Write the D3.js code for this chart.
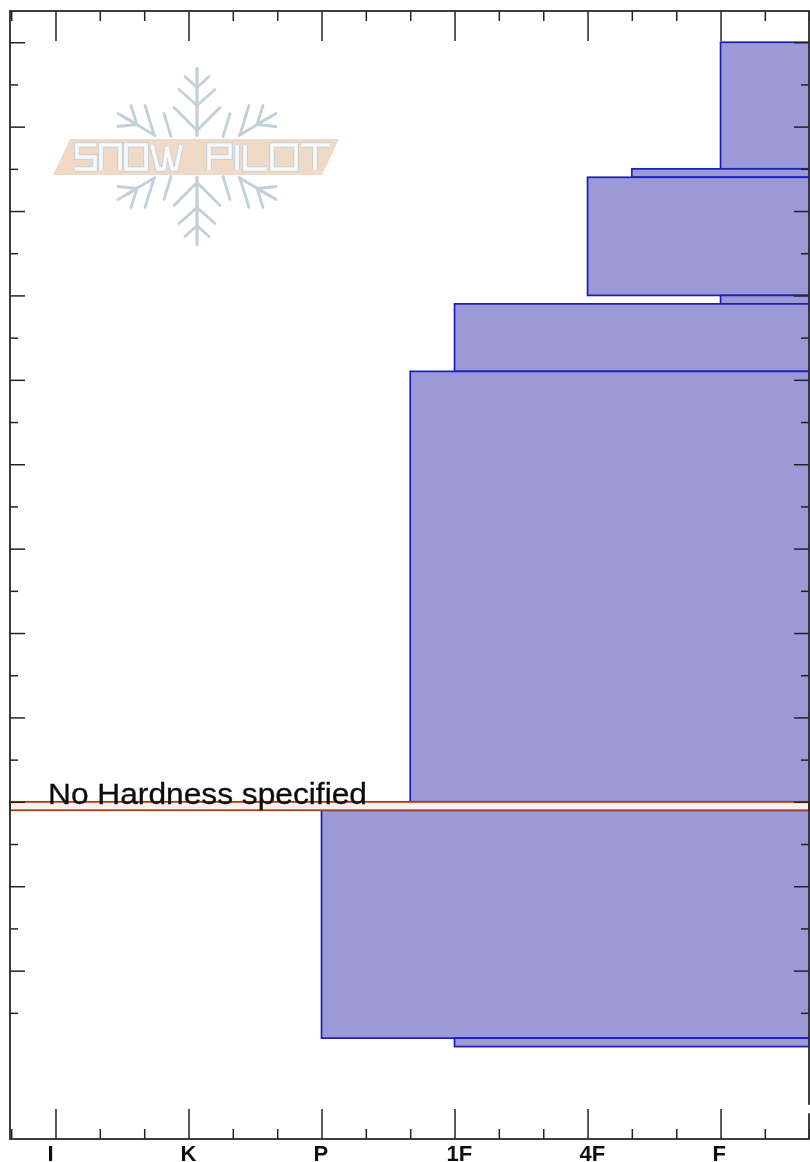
<!DOCTYPE html>
<html>
<head>
<meta charset="utf-8">
<script src="https://cdn.jsdelivr.net/npm/d3@7"></script>
<style>
    body { margin: 0; background: #fff; overflow: hidden; }
    svg { display: block; }
    .tick text { font-family: "Liberation Sans", Arial, sans-serif; }
</style>
</head>
<body>
<div id="chart"></div>
<script>
// Hardness categories along the x axis (index = position on the scale)
const hardness_labels = ["I", "K", "P", "1F", "4F", "F"];

// Snow layers: depth in cm (top / bottom) and hardness index of the left edge
const layer_top = [120, 105, 104, 90, 89, 81, 29, 2];
const layer_bottom = [105, 104, 90, 89, 81, 30, 2, 1];
const layer_hardness = [5, 4.333, 4, 5, 3, 2.667, 2, 3];

// Layer with no hardness given, drawn across the whole plot
const no_hardness_top = 30;
const no_hardness_bottom = 29;
const no_hardness_label = "No Hardness specified";

// Tick positions
const x_major = [0, 1, 2, 3, 4, 5];
const x_minor = [-0.333, 0.333, 0.667, 1.333, 1.667, 2.333, 2.667, 3.333, 3.667, 4.333, 4.667, 5.333, 5.667];
const y_major = [120, 110, 100, 90, 80, 70, 60, 50, 40, 30, 20, 10];
const y_minor = [115, 105, 95, 85, 75, 65, 55, 45, 35, 25, 15, 5];

const WIDTH = 810, HEIGHT = 1162;
const plot = {left: 10, right: 809, top: 11, bottom: 1139};

let svg = d3.select("#chart")
    .append("svg")
    .attr("width", WIDTH)
    .attr("height", HEIGHT);

// The reference is a slightly soft, resampled picture
let defs = svg.append("defs");
defs.append("filter").attr("id", "soft")
    .append("feGaussianBlur").attr("stdDeviation", 0.35);
defs.append("filter").attr("id", "softer")
    .append("feGaussianBlur").attr("stdDeviation", 0.6);
defs.append("clipPath").attr("id", "plot-clip")
    .append("rect")
    .attr("x", plot.left)
    .attr("y", plot.top)
    .attr("width", plot.right - plot.left)
    .attr("height", plot.bottom - plot.top);

let chart = svg.append("g").attr("filter", "url(#soft)");

let x = d3.scaleLinear()
    .domain([-0.342, 5.665])
    .range([plot.left, plot.right]);

let y = d3.scaleLinear()
    .domain([-9.95, 123.7])
    .range([plot.bottom, plot.top]);

drawLogo();

// Layers run off the right side of the plot
let layers = chart.append("g").attr("clip-path", "url(#plot-clip)");
layers.selectAll("rect")
    .data(d3.range(layer_top.length))
    .enter()
    .append("rect")
    .attr("x", function(i) { return x(layer_hardness[i]); })
    .attr("y", function(i) { return y(layer_top[i]); })
    .attr("width", function(i) { return x(6) - x(layer_hardness[i]); })
    .attr("height", function(i) { return y(layer_bottom[i]) - y(layer_top[i]); })
    .attr("fill", "#9b99d6")
    .attr("stroke", "#1c1cb8")
    .attr("stroke-width", 1.7);

chart.append("rect")
    .attr("x", x.range()[0])
    .attr("y", y(no_hardness_top))
    .attr("width", x.range()[1] - x.range()[0])
    .attr("height", y(no_hardness_bottom) - y(no_hardness_top))
    .attr("fill", "#fdf0ea")
    .attr("stroke", "#a03c1e")
    .attr("stroke-width", 1.8);

// Stretched a little wider than the font's own width, as in the reference
chart.append("text")
    .attr("x", 48)
    .attr("y", y(no_hardness_top) + 2)
    .attr("textLength", 319)
    .attr("lengthAdjust", "spacingAndGlyphs")
    .style("font-family", "'Liberation Sans', Arial, sans-serif")
    .style("font-size", "29px")
    .attr("fill", "#111")
    .attr("stroke", "#111")
    .attr("stroke-width", 0.3)
    .text(no_hardness_label);

// Axes on all four sides, ticks pointing inward
function addAxis(axis, transform) {
    let g = chart.append("g").attr("transform", transform).call(axis);
    g.select(".domain").remove();
    g.selectAll(".tick line").attr("stroke", "#222").attr("stroke-width", 1.5);
    return g;
}

addAxis(d3.axisBottom(x).tickValues(x_major).tickSize(30).tickFormat(""), `translate(0, ${plot.top})`);
addAxis(d3.axisBottom(x).tickValues(x_minor).tickSize(10).tickFormat(""), `translate(0, ${plot.top})`);
let bottom_axis = addAxis(d3.axisBottom(x).tickValues(x_major).tickSize(-30)
    .tickFormat(function(d) { return hardness_labels[d]; }), `translate(0, ${plot.bottom})`);
addAxis(d3.axisBottom(x).tickValues(x_minor).tickSize(-10).tickFormat(""), `translate(0, ${plot.bottom})`);
addAxis(d3.axisRight(y).tickValues(y_major).tickSize(15).tickFormat(""), `translate(${plot.left}, 0)`);
addAxis(d3.axisRight(y).tickValues(y_minor).tickSize(8).tickFormat(""), `translate(${plot.left}, 0)`);
addAxis(d3.axisLeft(y).tickValues(y_major).tickSize(15).tickFormat(""), `translate(${plot.right}, 0)`);
addAxis(d3.axisLeft(y).tickValues(y_minor).tickSize(8).tickFormat(""), `translate(${plot.right}, 0)`);

// Category labels start a little left of their tick
bottom_axis.selectAll(".tick text")
    .attr("x", -8.5)
    .attr("y", 22)
    .attr("dy", 0)
    .style("text-anchor", "start")
    .style("font-size", "22px")
    .style("font-weight", "bold")
    .attr("fill", "#111");

// Frame around the plot
chart.append("rect")
    .attr("x", plot.left)
    .attr("y", plot.top)
    .attr("width", plot.right - plot.left)
    .attr("height", plot.bottom - plot.top)
    .attr("fill", "none")
    .attr("stroke", "#2a2a2a")
    .attr("stroke-width", 1.8);

// Small break in the right side of the frame
chart.append("line")
    .attr("x1", plot.right)
    .attr("x2", plot.right)
    .attr("y1", y(-5.9))
    .attr("y2", y(-6.9))
    .attr("stroke", "#fff")
    .attr("stroke-width", 3);

/**
 * Watermark: snowflake drawn as one quadrant mirrored around its centre,
 * with the banner and the outlined lettering on top
 */
function drawLogo() {
    let logo = chart.append("g").attr("filter", "url(#softer)");
    let flake = logo.append("g")
        .attr("transform", "translate(197, 156.5)")
        .attr("fill", "none")
        .attr("stroke", "#c2d0d8")
        .attr("stroke-width", 2.8)
        .attr("stroke-linecap", "round");
    let quadrant = [
        "M0,-21V-88",
        "M0,-26L-23,-49",
        "M0,-51L-18,-67",
        "M0,-69L-12,-80",
        "M-26,-20L-33,-43",
        "M-42,-21L-79,-43",
        "M-43,-22L-52,-51",
        "M-60,-32L-66,-51",
        "M-60,-32L-79,-30",
        "M-63,-34L-74,-40"
    ];
    [[1, 1], [-1, 1], [1, -1], [-1, -1]].forEach(function(s) {
        flake.append("g")
            .attr("transform", `scale(${s[0]}, ${s[1]})`)
            .selectAll("path")
            .data(quadrant)
            .enter()
            .append("path")
            .attr("d", function(d) { return d; });
    });

    logo.append("path")
        .attr("d", "M70,139H339L322,175H53Z")
        .attr("fill", "#efdac8");

    let letters = [
        "M96,145H77V157H95V169H75",
        "M101,170V145H120V170",
        "M126,145H146V169H126Z",
        "M152,145L158,169H164L167,147L172,169H176L181,145",
        "M209,170V145H230V157H209",
        "M237,145V170",
        "M245,145V169H266",
        "M272,145H296V169H272Z",
        "M301,145H330M315,145V170"
    ];
    [["#cdd4d8", 6], ["#f8f9f9", 3.6]].forEach(function(style) {
        logo.append("g")
            .attr("fill", "none")
            .attr("stroke", style[0])
            .attr("stroke-width", style[1])
            .selectAll("path")
            .data(letters)
            .enter()
            .append("path")
            .attr("d", function(d) { return d; });
    });
}
</script>
</body>
</html>
